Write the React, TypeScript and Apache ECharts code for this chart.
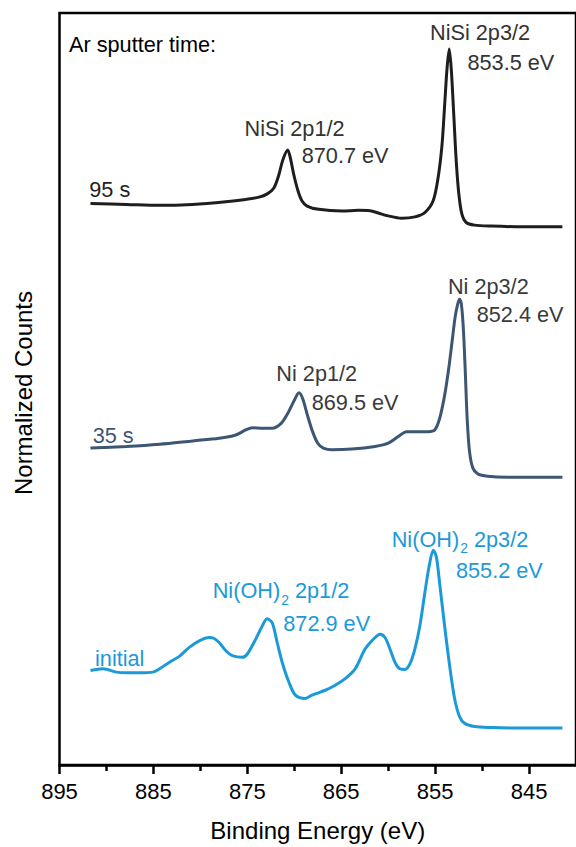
import React, { useEffect, useRef } from "react";
import * as echarts from "echarts";

// Binding energies (eV) and normalized, vertically offset counts for each spectrum
const energy95 = [891.7, 887.89, 884.35, 880.82, 877.29, 875.17, 873.76, 872.88, 872.17, 871.64, 871.22, 870.7, 870.41, 870.05, 869.59, 869.17, 868.64, 867.4, 864.93, 863.17, 861.93, 861.05, 859.99, 858.58, 857.16, 856.1, 855.22, 854.69, 854.27, 853.99, 853.74, 853.5, 853.28, 853.03, 852.75, 852.47, 852.15, 851.69, 850.81, 849.04, 845.51, 841.45];
const counts95 = [74.68, 74.55, 74.42, 74.55, 74.9, 75.21, 75.51, 75.95, 76.74, 78.49, 80.46, 81.78, 80.68, 78.49, 76.3, 74.99, 74.33, 73.89, 73.67, 73.76, 73.7, 73.4, 73.02, 72.71, 72.89, 73.46, 74.99, 78.05, 82.43, 87.69, 92.51, 95.22, 92.51, 86.81, 80.24, 75.86, 73.24, 72.14, 71.79, 71.66, 71.57, 71.57];

const energy35 = [891.7, 887.89, 884.35, 880.82, 878.0, 876.23, 875.17, 874.47, 873.41, 872.35, 871.4, 870.7, 870.0, 869.5, 869.1, 868.6, 868.05, 867.5, 866.9, 865.99, 863.87, 861.4, 859.99, 858.93, 858.05, 856.81, 855.75, 855.05, 854.52, 853.99, 853.56, 853.21, 852.86, 852.57, 852.4, 852.22, 852.01, 851.8, 851.59, 851.34, 850.99, 850.46, 849.4, 847.28, 843.75, 841.45];
const counts35 = [42.14, 42.36, 42.66, 43.1, 43.45, 43.89, 44.55, 44.85, 44.77, 44.77, 45.42, 46.74, 48.49, 49.5, 48.71, 46.52, 44.33, 42.79, 42.14, 41.92, 42.01, 42.36, 42.79, 43.67, 44.33, 44.33, 44.33, 44.55, 46.08, 49.15, 52.65, 56.15, 59.66, 61.41, 61.94, 61.41, 58.34, 52.65, 46.08, 41.7, 39.51, 38.72, 38.41, 38.28, 38.28, 38.28];

const energyInitial = [891.7, 890.36, 888.94, 887.89, 886.47, 885.06, 884.35, 883.29, 882.24, 881.18, 880.12, 879.06, 878.53, 878.0, 877.29, 876.59, 875.53, 875.0, 874.11, 873.41, 872.9, 872.35, 871.82, 871.29, 870.58, 869.88, 868.82, 868.11, 866.7, 865.64, 864.58, 863.52, 862.46, 861.58, 860.87, 860.34, 859.81, 859.28, 858.75, 858.22, 857.69, 857.16, 856.63, 856.1, 855.65, 855.2, 854.87, 854.52, 853.99, 853.46, 852.93, 852.4, 851.87, 850.81, 849.04, 845.51, 841.45];
const countsInitial = [12.57, 12.79, 12.35, 12.26, 12.26, 12.35, 12.79, 13.67, 14.45, 15.64, 16.51, 16.95, 16.82, 16.29, 15.2, 14.54, 14.32, 14.76, 16.73, 18.48, 19.45, 18.92, 16.29, 13.67, 11.04, 9.29, 8.85, 9.29, 9.94, 10.6, 11.48, 12.79, 15.42, 16.73, 17.39, 16.95, 15.42, 13.67, 12.79, 12.7, 13.45, 15.42, 18.48, 22.86, 26.37, 28.56, 27.68, 24.18, 18.48, 13.23, 8.85, 6.44, 5.56, 5.12, 4.99, 4.91, 4.91];

const majorTicks = [895, 885, 875, 865, 855, 845];
const minorTicks = [890, 880, 870, 860, 850];

const COLOR_95 = "#1e1e1e";
const COLOR_35 = "#3d5673";
const COLOR_INITIAL = "#1b9ad7";
const FONT = "'Liberation Sans', Arial, sans-serif";
const LABEL_SIZE = 21.7;

const label = (text: string, x: number, y: number, fill: string, align = "left") => ({
  type: "text",
  x,
  y,
  style: { text, fill, fontSize: LABEL_SIZE, fontFamily: FONT, align, verticalAlign: "middle" },
});

// Chemical-state label with a lowered "2" for the hydroxide formula
const subLabel = (head: string, tail: string, x: number, y: number, fill: string) => ({
  type: "text",
  x,
  y,
  style: {
    text: `{a|${head}}{s|2}{a|${tail}}`,
    fill,
    fontFamily: FONT,
    align: "left",
    verticalAlign: "middle",
    rich: {
      a: { fontSize: LABEL_SIZE, fontFamily: FONT, fill, lineHeight: 24 },
      s: { fontSize: 14, fontFamily: FONT, fill, padding: [18, 0, 0, 1] },
    },
  },
});

export default function App() {
  const ref = useRef<HTMLDivElement>(null);

  useEffect(() => {
    if (!ref.current) return;
    const chart = echarts.init(ref.current, null, { renderer: "svg" });
    const toPairs = (xs: number[], ys: number[]) => xs.map((x, i) => [x, ys[i]]);
    const lineSeries = (name: string, xs: number[], ys: number[], color: string) => ({
      name,
      type: "line",
      data: toPairs(xs, ys),
      showSymbol: false,
      smooth: 0.3,
      lineStyle: { color, width: 3 },
      xAxisIndex: 0,
      yAxisIndex: 0,
    });

    chart.setOption({
      animation: false,
      backgroundColor: "#ffffff",
      grid: {
        left: 59.5,
        right: -2.7,
        top: 13,
        bottom: 73,
        show: true,
        borderColor: "#000",
        borderWidth: 2.5,
      },
      xAxis: [
        {
          type: "value",
          min: 840,
          max: 895,
          inverse: true,
          name: "Binding Energy (eV)",
          nameLocation: "middle",
          nameGap: 53,
          nameTextStyle: { fontSize: 24, fontFamily: FONT, color: "#000" },
          axisLine: { show: true, lineStyle: { color: "#000", width: 2.5 } },
          axisTick: { show: true, length: 9, lineStyle: { color: "#000", width: 2.5 }, customValues: majorTicks },
          axisLabel: { fontSize: 22, fontFamily: FONT, color: "#000", margin: 15, customValues: majorTicks },
          splitLine: { show: false },
        },
        {
          type: "value",
          min: 840,
          max: 895,
          inverse: true,
          position: "bottom",
          axisLine: { show: false },
          axisTick: { show: true, length: 6, lineStyle: { color: "#000", width: 2.5 }, customValues: minorTicks },
          axisLabel: { show: false },
          splitLine: { show: false },
        },
      ],
      yAxis: {
        type: "value",
        min: 0,
        max: 100,
        axisLine: { show: false },
        axisTick: { show: false },
        axisLabel: { show: false },
        splitLine: { show: false },
      },
      series: [
        lineSeries("95 s", energy95, counts95, COLOR_95),
        lineSeries("35 s", energy35, counts35, COLOR_35),
        lineSeries("initial", energyInitial, countsInitial, COLOR_INITIAL),
      ],
      graphic: [
        {
          type: "text",
          x: 23.5,
          y: 393,
          rotation: Math.PI / 2,
          style: { text: "Normalized Counts", fill: "#000", fontSize: 24, fontFamily: FONT, align: "center", verticalAlign: "middle" },
        },
        label("Ar sputter time:", 69, 44, "#000"),
        label("NiSi 2p3/2", 480, 32.5, "#333", "center"),
        label("853.5 eV", 467.5, 62.3, "#333"),
        label("NiSi 2p1/2", 294.5, 128, "#333", "center"),
        label("870.7 eV", 301.7, 155.5, "#333"),
        label("95 s", 89.3, 189.7, COLOR_95),
        label("Ni 2p3/2", 488.3, 286, "#3a3a3a", "center"),
        label("852.4 eV", 476.7, 314, "#3a3a3a"),
        label("Ni 2p1/2", 316.7, 373.7, "#3a3a3a", "center"),
        label("869.5 eV", 311.7, 402, "#3a3a3a"),
        label("35 s", 92.7, 435.3, COLOR_35),
        subLabel("Ni(OH)", " 2p3/2", 391.7, 539, COLOR_INITIAL),
        label("855.2 eV", 456, 570, COLOR_INITIAL),
        subLabel("Ni(OH)", " 2p1/2", 212.7, 590.5, COLOR_INITIAL),
        label("872.9 eV", 283.3, 623, COLOR_INITIAL),
        label("initial", 95, 658, COLOR_INITIAL),
      ],
    });
    return () => chart.dispose();
  }, []);

  return (
    <div
      ref={ref}
      style={{ position: "fixed", left: 0, top: 0, width: 576, height: 847, background: "#fff" }}
    />
  );
}
